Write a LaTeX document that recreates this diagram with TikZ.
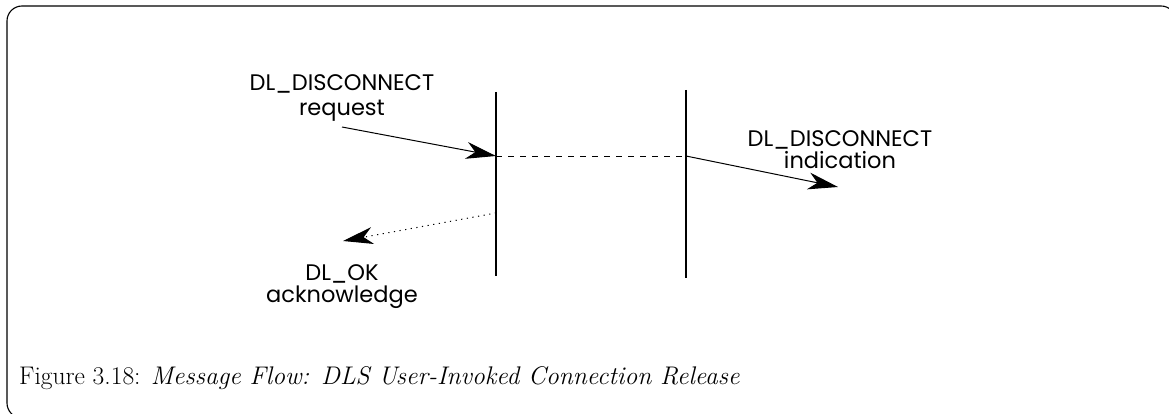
\documentclass[tikz,border=0pt]{standalone}
\usepackage{fontspec}
\usetikzlibrary{arrows.meta}
\newfontfamily\labelfont{Poppins}
\begin{document}
\begin{tikzpicture}[x=1pt,y=-1pt,
  msg/.style={font=\labelfont\fontsize{22.5}{25}\selectfont, inner sep=0pt, anchor=base},
  life/.style={line width=1.6pt},
  signal/.style={line width=1pt, -{Stealth[length=30pt,width=17pt,inset=9pt]}},
  caption/.style={font=\fontsize{25.5}{30}\selectfont, inner sep=0pt, anchor=base west}]
  \useasboundingbox (0,0) rectangle (1169,414);
  % outer frame, partly running off the page
  \draw[line width=1.1pt, rounded corners=15pt] (7,6) rectangle (1176,418);

  % the two lifelines
  \coordinate (userTop) at (496,92);
  \coordinate (userBot) at (496,276);
  \coordinate (provTop) at (686,90);
  \coordinate (provBot) at (686,278);
  \draw[life] (userTop) -- (userBot);
  \draw[life] (provTop) -- (provBot);

  % request coming in from the user
  \coordinate (reqFrom) at (342,127);
  \coordinate (reqTo) at (496,156);
  \draw[signal] (reqFrom) -- (reqTo);
  \node[msg] (reqName) at (342,91) {DL\_DISCONNECT};
  \node[msg] (reqKind) at (342,116) {request};

  % crossing between the lifelines
  \coordinate (provIn) at (686,156);
  \draw[line width=0.8pt, dash pattern=on 6pt off 6pt] (reqTo) -- (provIn);

  % indication delivered on the far side
  \coordinate (indTo) at (838,187);
  \draw[signal] (provIn) -- (indTo);
  \node[msg] (indName) at (840,147) {DL\_DISCONNECT};
  \node[msg] (indKind) at (840,168) {indication};

  % local acknowledgement back to the user
  \coordinate (ackFrom) at (496,213);
  \coordinate (ackTo) at (343,241);
  \draw[signal, dash pattern=on 1.2pt off 4.5pt] (ackFrom) -- (ackTo);
  \node[msg] (ackName) at (342,280) {DL\_OK};
  \node[msg] (ackKind) at (342,302) {acknowledge};

  % caption
  \node[caption] (cap) at (19,384) {Figure 3.18: \textit{Message Flow: DLS User-Invoked Connection Release}};
\end{tikzpicture}
\end{document}
